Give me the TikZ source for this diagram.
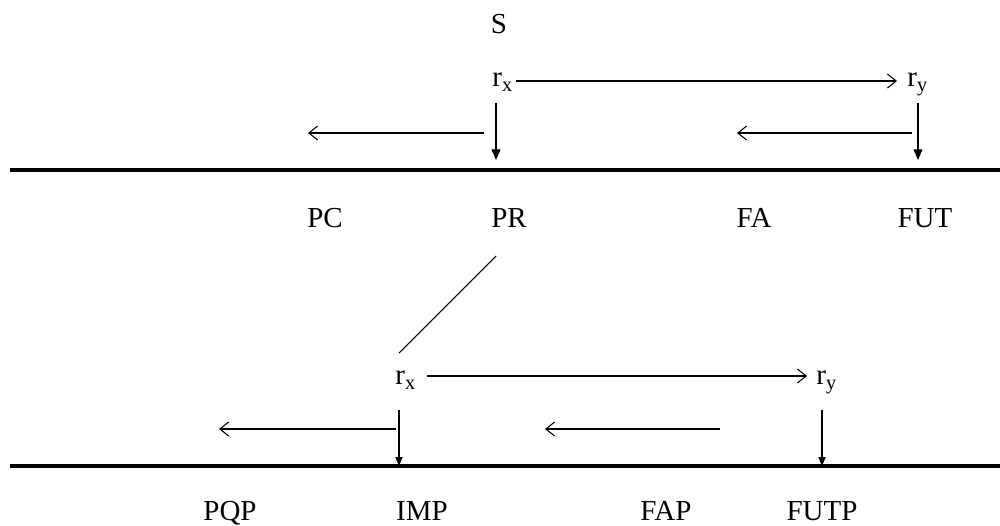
\documentclass[tikz,border=0pt]{standalone}
\usepackage{fontspec}
\setmainfont{Liberation Serif}
\usetikzlibrary{arrows.meta,positioning}
\tikzset{
  lbl/.style={font=\fontsize{16.5}{19}\selectfont, inner sep=0pt, anchor=base},
  rlbl/.style={font=\fontsize{16.5}{19}\selectfont, inner sep=0pt, anchor=base west},
  barb/.style={line width=0.6pt, -{Straight Barb[length=5pt,width=8pt]}},
  drop/.style={line width=0.6pt, -{Triangle[length=6pt,width=5pt]}},
  dropsmall/.style={line width=0.6pt, -{Triangle[length=5pt,width=4pt]}},
  timeline/.style={line width=1.9pt}
}
\begin{document}
\begin{tikzpicture}[x=0.02cm, y=-0.02cm]
    \useasboundingbox (0,0) rectangle (1000,526);

    % Upper level: speech time and reference points
    \node[lbl]  (s)   at (499,34) {S};
    \node[rlbl] (rxa) at (492,87) {r\textsubscript{x}};
    \node[rlbl] (rya) at (907,87) {r\textsubscript{y}};

    % Upper time line and its points
    \coordinate (la0) at (10,170);
    \coordinate (la1) at (1000,170);
    \node[lbl] (pc)  at (325,228) {PC};
    \node[lbl] (pr)  at (509,228) {PR};
    \node[lbl] (fa)  at (754,228) {FA};
    \node[lbl] (fut) at (925,228) {FUT};

    % Upper arrows
    \coordinate (ha0) at (516,81);
    \coordinate (ha1) at (897,81);
    \coordinate (da0) at (496,103);
    \coordinate (da1) at (496,160);
    \coordinate (db0) at (918,103);
    \coordinate (db1) at (918,160);
    \coordinate (ba0) at (484,133);
    \coordinate (ba1) at (308,133);
    \coordinate (bb0) at (912,133);
    \coordinate (bb1) at (737,133);
    \draw[barb] (ha0) -- (ha1);
    \draw[drop] (da0) -- (da1);
    \draw[drop] (db0) -- (db1);
    \draw[barb] (ba0) -- (ba1);
    \draw[barb] (bb0) -- (bb1);
    \draw[timeline] (la0) -- (la1);

    % Link from PR down to the past level
    \coordinate (dg0) at (496,256);
    \coordinate (dg1) at (399,353);
    \draw[line width=0.6pt] (dg0) -- (dg1);

    % Lower level: reference points
    \node[rlbl] (rxb) at (395,385) {r\textsubscript{x}};
    \node[rlbl] (ryb) at (816,385) {r\textsubscript{y}};

    % Lower time line and its points
    \coordinate (lb0) at (10,466);
    \coordinate (lb1) at (1000,466);
    \node[lbl] (pqp)  at (230,520) {PQP};
    \node[lbl] (imp)  at (422,520) {IMP};
    \node[lbl] (fap)  at (666,520) {FAP};
    \node[lbl] (futp) at (822,520) {FUTP};

    % Lower arrows
    \coordinate (hb0) at (427,376);
    \coordinate (hb1) at (807,376);
    \coordinate (dc0) at (399,410);
    \coordinate (dc1) at (399,466);
    \coordinate (dd0) at (822,410);
    \coordinate (dd1) at (822,466);
    \coordinate (bc0) at (396,429);
    \coordinate (bc1) at (219,429);
    \coordinate (bd0) at (720,429);
    \coordinate (bd1) at (545,429);
    \draw[barb] (hb0) -- (hb1);
    \draw[timeline] (lb0) -- (lb1);
    \draw[dropsmall] (dc0) -- (dc1);
    \draw[dropsmall] (dd0) -- (dd1);
    \draw[barb] (bc0) -- (bc1);
    \draw[barb] (bd0) -- (bd1);
\end{tikzpicture}
\end{document}
